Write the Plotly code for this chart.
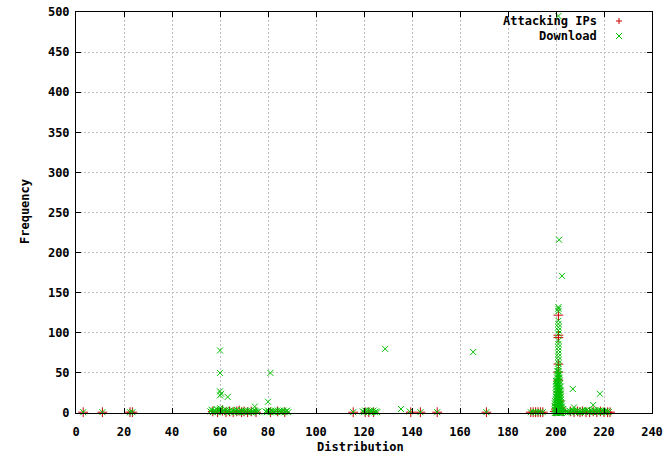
import plotly.graph_objects as go

# ---------------- data ----------------
x_ticks = [0, 20, 40, 60, 80, 100, 120, 140, 160, 180, 200, 220, 240]
y_ticks = [0, 50, 100, 150, 200, 250, 300, 350, 400, 450, 500]

attacking_ips = [
    (3, 1), (11, 1), (22.5, 1), (23.5, 1),
    (57, 2), (59, 1), (61, 3), (62.5, 1), (64, 2), (65.5, 1), (67, 2), (68, 3),
    (69, 1), (70, 2), (71.5, 1), (73, 2), (75, 1),
    (81, 1), (84, 2), (87, 1),
    (115.5, 1), (120.5, 1), (122, 1), (124, 1),
    (139.5, 1), (143.5, 1), (150.5, 1), (171, 1),
    (189.5, 1), (190.5, 1), (191.5, 1), (192.5, 1), (193.5, 1), (194.5, 1),
    (199.5, 2), (200, 5), (200.5, 10), (201, 122), (201, 97), (201, 94), (201, 61),
    (201, 51), (201, 41), (201, 26), (201.5, 15), (202, 6), (202.5, 3), (203, 2),
    (206, 2), (207.5, 1), (209, 2), (210, 1), (211, 2), (212.5, 1), (214, 1),
    (215.5, 2), (217, 1), (218.5, 2), (220, 1), (221.5, 1), (222.5, 1),
]

download_low = [
    (3, 1), (11, 1), (22.5, 1), (23.5, 1),
    (115.5, 1), (139, 2), (143.5, 1), (150.5, 1), (171, 1),
    (189.5, 1), (190.5, 1), (191.5, 1), (192.5, 1), (193.5, 1), (194.5, 1),
]

download_band_60 = [
    (56, 2), (56.5, 4), (57, 1), (57.5, 3), (58, 2), (58.5, 5), (59, 1), (59.5, 3),
    (60, 4), (60.5, 2), (61, 1), (61.5, 3), (62, 2), (62.5, 4), (63, 1), (63.5, 2),
    (64, 3), (64.5, 1), (65, 2), (65.5, 3), (66, 1), (66.5, 2), (67, 4), (67.5, 1),
    (68, 2), (68.5, 1), (69, 3), (69.5, 2), (70, 1), (70.5, 3), (71, 2), (71.5, 1),
    (72, 2), (72.5, 3), (73, 1), (73.5, 2), (74, 1), (74.5, 3), (75, 2), (75.5, 1),
    (76, 2),
    (60, 78), (60, 50), (60, 27), (60.5, 24), (60, 22), (60, 6), (63.2, 20), (74.5, 8),
]

download_band_80 = [
    (79, 2), (79.5, 1), (80, 3), (80.5, 2), (81, 1), (81.5, 3), (82, 2), (82.5, 1),
    (83, 3), (83.5, 2), (84, 1), (84.5, 2), (85, 3), (85.5, 1), (86, 2), (86.5, 3),
    (87, 1), (87.5, 2), (88, 3), (88.5, 1),
    (80, 14), (81, 50),
]

download_band_120 = [
    (119.5, 2), (120, 1), (120.5, 3), (121, 2), (121.5, 1), (122, 2), (122.5, 3),
    (123, 1), (123.5, 2), (124, 3), (124.5, 1), (125, 2), (125.5, 1),
    (128.8, 80), (135.4, 5), (165.5, 76),
]

download_peak = [
    # dense column
    (199.5, 0), (199.5, 4), (199.5, 8), (199.5, 12), (199.5, 15),
    (200, 0), (200, 4), (200, 8), (200, 12), (200, 16), (200, 20), (200, 24),
    (200, 28), (200, 32), (200, 36), (200, 40),
    (200.5, 0), (200.5, 4), (200.5, 8), (200.5, 12), (200.5, 16), (200.5, 20),
    (200.5, 24), (200.5, 28), (200.5, 32), (200.5, 36), (200.5, 40), (200.5, 44),
    (200.5, 48), (200.5, 52),
    (201, 0), (201, 4), (201, 8), (201, 12), (201, 16), (201, 20), (201, 24),
    (201, 28), (201, 32), (201, 36), (201, 40), (201, 44), (201, 48), (201, 52),
    (201, 55),
    (201.5, 0), (201.5, 4), (201.5, 8), (201.5, 12), (201.5, 16), (201.5, 20),
    (201.5, 24), (201.5, 28), (201.5, 32), (201.5, 36), (201.5, 40), (201.5, 44),
    (201.5, 48),
    (202, 0), (202, 4), (202, 8), (202, 12), (202, 16), (202, 20), (202, 24),
    (202, 28), (202, 33),
    (202.5, 0), (202.5, 4), (202.5, 8), (202.5, 12),
    (203, 1), (203, 5),
    # stacked crosses above
    (201, 58), (201, 62), (201, 66), (201, 70), (201, 74), (201, 78), (201, 82),
    (201, 86), (201, 90), (201, 99), (201, 103), (201, 107), (201, 111),
    (201, 115), (201, 127), (201, 130), (201, 132),
    (201.3, 216), (202.5, 171), (201, 495),
]

download_band_210 = [
    (204, 1), (204.5, 2), (205, 1), (205.5, 3), (206, 2), (206.5, 1), (207, 3),
    (207.5, 2), (208, 1), (208.5, 2), (209, 3), (209.5, 1), (210, 2), (210.5, 1),
    (211, 3), (211.5, 2), (212, 1), (212.5, 3), (213, 4), (213.5, 2), (214, 1),
    (214.5, 3), (215, 2), (215.5, 1), (216, 3), (216.5, 2), (217, 1), (217.5, 2),
    (218, 3), (218.5, 1), (219, 3), (219.5, 2), (220, 1), (220.5, 2), (221, 1),
    (221.5, 2), (222, 1),
    (207, 30), (207.5, 7), (215.5, 10), (218.3, 24),
]

download = (download_low + download_band_60 + download_band_80 +
            download_band_120 + download_peak + download_band_210)

RED = "#cc0000"
GREEN = "#00c000"
FONT = "DejaVu Sans Mono"
BOLD12 = dict(family=FONT, size=12, color="black", weight="bold")

fig = go.Figure()
fig.add_trace(go.Scatter(
    x=[p[0] for p in attacking_ips], y=[p[1] for p in attacking_ips],
    mode="markers", name="Attacking IPs", cliponaxis=False,
    marker=dict(symbol="cross-thin", size=7, line=dict(color=RED, width=1)),
))
fig.add_trace(go.Scatter(
    x=[p[0] for p in download], y=[p[1] for p in download],
    mode="markers", name="Download", cliponaxis=False,
    marker=dict(symbol="x-thin", size=6, line=dict(color=GREEN, width=1)),
))

axis_common = dict(
    showline=True, linecolor="black", linewidth=1, mirror="ticks",
    ticks="inside", ticklen=5, tickcolor="black",
    showgrid=True, gridcolor="#bdbdbd", griddash="2px,2px", gridwidth=1,
    zeroline=False, automargin=False, ticklabeloverflow="allow",
    tickfont=BOLD12,
)

fig.update_xaxes(range=[0, 240], tickvals=x_ticks, ticklabelstandoff=8,
                 ticktext=[str(v) for v in x_ticks], **axis_common)
fig.update_yaxes(range=[0, 500], tickvals=y_ticks, ticklabelstandoff=3,
                 ticktext=[str(v) for v in y_ticks], **axis_common)

PW = 576.0  # plot width in px
PH = 401.0  # plot height in px
# axis titles
fig.add_annotation(xref="paper", yref="paper", x=(360 - 76) / PW, y=-(447 - 413) / PH,
                   text="Distribution", showarrow=False, xanchor="center",
                   yanchor="middle", font=BOLD12)
fig.add_annotation(xref="paper", yref="paper", x=-(76 - 25) / PW, y=(413 - 212) / PH,
                   text="Frequency", showarrow=False, textangle=-90, xanchor="center",
                   yanchor="middle", font=BOLD12)

# legend drawn as gnuplot-style key (text right-aligned, sample to the right)
lx_text = (599 - 76) / PW
lx_mark = (619 - 76) / PW
ly1 = 1 - 9 / PH
ly2 = 1 - 24 / PH
for txt, yy in [("Attacking IPs", ly1), ("Download", ly2)]:
    fig.add_annotation(xref="paper", yref="paper", x=lx_text, y=yy, text=txt,
                       showarrow=False, xanchor="right", yanchor="middle",
                       font=BOLD12)
dx = 3 / PW
dy = 3 / PH
fig.add_shape(type="line", xref="paper", yref="paper", x0=lx_mark - dx, x1=lx_mark + dx,
              y0=ly1, y1=ly1, line=dict(color=RED, width=1))
fig.add_shape(type="line", xref="paper", yref="paper", x0=lx_mark, x1=lx_mark,
              y0=ly1 - dy, y1=ly1 + dy, line=dict(color=RED, width=1))
fig.add_shape(type="line", xref="paper", yref="paper", x0=lx_mark - dx, x1=lx_mark + dx,
              y0=ly2 - dy, y1=ly2 + dy, line=dict(color=GREEN, width=1))
fig.add_shape(type="line", xref="paper", yref="paper", x0=lx_mark - dx, x1=lx_mark + dx,
              y0=ly2 + dy, y1=ly2 - dy, line=dict(color=GREEN, width=1))

fig.update_layout(
    width=672, height=456,
    margin=dict(l=76, r=20, t=12, b=43),
    paper_bgcolor="white", plot_bgcolor="white",
    showlegend=False,
    font=dict(family=FONT, size=12, color="black"),
)

# remove the default 8px page margin so the figure fills the window exactly
fig.write_html("out.html",
               config={"displayModeBar": False},
               post_script="document.body.style.margin='0px';"
                           "document.body.style.overflow='hidden';")
